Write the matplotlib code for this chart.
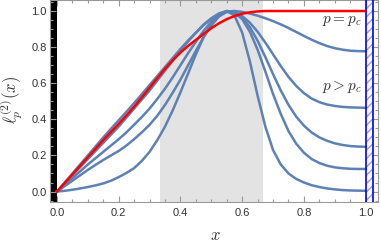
import matplotlib.pyplot as plt
from matplotlib.ticker import MultipleLocator

plt.rcParams['mathtext.fontset'] = 'cm'
plt.rcParams['font.family'] = ['Liberation Sans', 'DejaVu Sans']

# sample positions along x (step 0.025)
x = [0.0, 0.025, 0.05, 0.075, 0.1, 0.125, 0.15, 0.175, 0.2, 0.225,
     0.25, 0.275, 0.3, 0.325, 0.35, 0.375, 0.4, 0.425, 0.45, 0.475,
     0.5, 0.525, 0.55, 0.575, 0.6, 0.625, 0.65, 0.675, 0.7, 0.725,
     0.75, 0.775, 0.8, 0.825, 0.85, 0.875, 0.9, 0.925, 0.95, 0.975, 1.0]

# p = p_c (red)
l_crit = [0, 0.047, 0.095, 0.142, 0.19, 0.237, 0.285, 0.33, 0.375, 0.422,
          0.47, 0.522, 0.575, 0.628, 0.68, 0.727, 0.77, 0.807, 0.84, 0.873,
          0.905, 0.932, 0.955, 0.972, 0.985, 0.993, 0.998, 1.0, 1.0, 1.0,
          1.0, 1.0, 1.0, 1.0, 1.0, 1.0, 1.0, 1.0, 1.0, 1.0, 1.0]

# p > p_c (blue), from closest to p_c down
l_a = [0, 0.05, 0.1, 0.15, 0.2, 0.25, 0.3, 0.348, 0.395, 0.442,
       0.49, 0.54, 0.59, 0.64, 0.69, 0.74, 0.79, 0.837, 0.88, 0.922,
       0.955, 0.982, 0.997, 1.0, 0.995, 0.986, 0.974, 0.96, 0.944, 0.926,
       0.906, 0.884, 0.862, 0.841, 0.822, 0.806, 0.794, 0.786, 0.78, 0.778, 0.777]
l_b = [0, 0.045, 0.09, 0.135, 0.18, 0.225, 0.27, 0.315, 0.36, 0.41,
       0.46, 0.51, 0.56, 0.615, 0.67, 0.725, 0.78, 0.832, 0.88, 0.925,
       0.96, 0.987, 1.0, 0.995, 0.972, 0.935, 0.885, 0.825, 0.76, 0.695,
       0.635, 0.585, 0.545, 0.515, 0.495, 0.482, 0.474, 0.469, 0.466, 0.465, 0.464]
l_c = [0, 0.037, 0.075, 0.112, 0.15, 0.185, 0.22, 0.255, 0.29, 0.328,
       0.37, 0.413, 0.46, 0.513, 0.57, 0.633, 0.7, 0.767, 0.83, 0.89,
       0.94, 0.978, 0.998, 0.995, 0.965, 0.91, 0.835, 0.745, 0.65, 0.56,
       0.48, 0.415, 0.365, 0.327, 0.3, 0.281, 0.267, 0.258, 0.252, 0.249, 0.248]
l_d = [0, 0.03, 0.06, 0.09, 0.12, 0.148, 0.175, 0.2, 0.225, 0.255,
       0.29, 0.328, 0.37, 0.42, 0.48, 0.548, 0.62, 0.7, 0.78, 0.855,
       0.92, 0.97, 0.995, 0.99, 0.955, 0.885, 0.785, 0.665, 0.54, 0.43,
       0.335, 0.265, 0.215, 0.18, 0.158, 0.143, 0.134, 0.129, 0.126, 0.125, 0.125]
l_e = [0, 0.004, 0.01, 0.017, 0.025, 0.034, 0.045, 0.06, 0.08, 0.103,
       0.13, 0.17, 0.22, 0.285, 0.36, 0.45, 0.55, 0.655, 0.76, 0.855,
       0.93, 0.98, 1.0, 0.975, 0.88, 0.72, 0.53, 0.36, 0.23, 0.15,
       0.1, 0.07, 0.05, 0.035, 0.025, 0.017, 0.012, 0.008, 0.006, 0.005, 0.004]
blue_curves = [l_a, l_b, l_c, l_d, l_e]

BLUE = '#5e81b5'
RED = '#ff0000'
GRAY = '#9a9a9a'

fig = plt.figure(figsize=(3.81, 2.49), dpi=100)
ax = fig.add_axes([50 / 381, 47 / 249, 328 / 381, 202 / 249])
ax.set_xlim(-0.0227, 1.04)
ax.set_ylim(-0.058, 1.061)

# shaded middle third, walls at both ends
ax.axvspan(1 / 3, 2 / 3, color='#e3e3e3', lw=0, zorder=0)
ax.axvspan(-0.0227, 0, color='black', lw=0, zorder=1)
ax.axvspan(1.0, 1.025, facecolor='white', edgecolor='#9999ff', hatch='////', lw=0, zorder=1)
ax.axvline(1.0, color='#0000ff', lw=1.2, zorder=4)
ax.axvline(1.025, color='#0000ff', lw=1.2, zorder=4)

for yy in blue_curves:
    ax.plot(x, yy, color=BLUE, lw=1.8, zorder=2, solid_joinstyle='round')
ax.plot(x, l_crit, color=RED, lw=1.8, zorder=3)

ax.text(0.988, 0.945, r'$p = p_c$', ha='right', va='center', fontsize=11, color='#333333')
ax.text(0.988, 0.579, r'$p > p_c$', ha='right', va='center', fontsize=11, color='#333333')

ax.xaxis.set_major_locator(MultipleLocator(0.2))
ax.xaxis.set_minor_locator(MultipleLocator(0.05))
ax.yaxis.set_major_locator(MultipleLocator(0.2))
ax.yaxis.set_minor_locator(MultipleLocator(0.05))
ax.tick_params(which='both', direction='in', top=True, right=True, color=GRAY,
               labelsize=8, labelcolor='#333333', width=0.8)
ax.tick_params(which='major', length=4)
ax.tick_params(which='minor', length=2)
ax.tick_params(axis='x', pad=4.5)
ax.tick_params(axis='y', pad=2.5)
ax.xaxis.set_major_formatter(plt.FormatStrFormatter('%.1f'))
ax.yaxis.set_major_formatter(plt.FormatStrFormatter('%.1f'))
for s in ax.spines.values():
    s.set_color(GRAY)
    s.set_linewidth(0.8)

fig.text(215 / 381, 1 - 235 / 249, r'$x$', ha='center', va='center', fontsize=12, color='#333333')
fig.text(12 / 381, 1 - 100 / 249, r'$\ell_p^{(2)}(x)$', ha='center', va='center',
         rotation=90, fontsize=12, color='#333333')

fig.savefig('out.png', dpi=100)
